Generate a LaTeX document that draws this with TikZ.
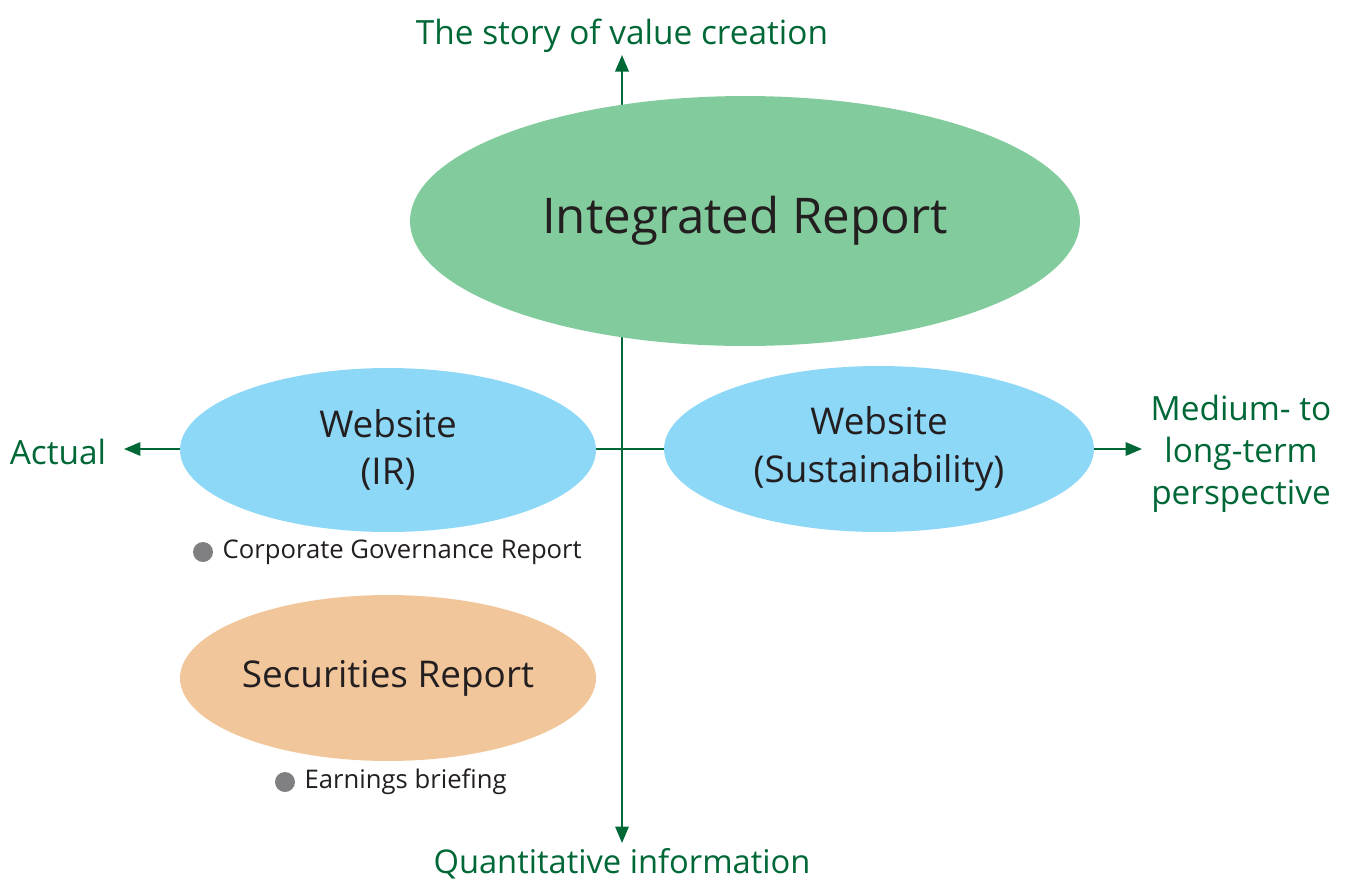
\documentclass[tikz,border=0pt]{standalone}
\usepackage{fontspec}
\setmainfont{Open Sans}
\usetikzlibrary{arrows.meta, positioning, shapes.geometric}

\definecolor{axisgreen}{RGB}{0,104,55}
\definecolor{irgreen}{RGB}{130,203,156}
\definecolor{webblue}{RGB}{141,215,247}
\definecolor{secorange}{RGB}{242,198,155}
\definecolor{bulletgray}{RGB}{128,128,130}
\definecolor{textdark}{RGB}{35,31,32}

\begin{document}
\begin{tikzpicture}[
x=0.02cm, y=-0.02cm,
node distance=2mm,
axis/.style={draw=axisgreen, line width=1.1pt, -{Triangle[length=3.3mm, width=2.7mm]}},
axislabel/.style={text=axisgreen, font=\fontsize{19}{24}\selectfont, align=center, inner sep=0pt},
report/.style={ellipse, inner sep=0pt, text=textdark, align=center, font=\fontsize{21}{27}\selectfont},
dot/.style={circle, fill=bulletgray, inner sep=0pt, minimum size=4mm},
note/.style={text=textdark, font=\fontsize{14.6}{18}\selectfont, inner sep=0pt, anchor=west}
]
\useasboundingbox (0,0) rectangle (1346,880);

% axes
\coordinate (origin) at (622,449);
\coordinate (up) at (622,55);
\coordinate (down) at (622,843);
\coordinate (left) at (124,449);
\coordinate (right) at (1142,449);
\draw[axis] (origin) -- (up);
\draw[axis] (origin) -- (down);
\draw[axis] (origin) -- (left);
\draw[axis] (origin) -- (right);

\node[axislabel] (story) at (622,36) {The story of value creation};
\node[axislabel, font=\fontsize{18.6}{24}\selectfont] (quant) at (622,864) {Quantitative information};
\node[axislabel] (actual) at (58,452) {Actual};
\node[axislabel] (longterm) at (1241,454) {Medium- to\\long-term\\perspective};

% media
\node[report, fill=irgreen, minimum width=13.4cm, minimum height=5cm,
  font=\fontsize{28}{34}\selectfont] (integrated) at (745,221) {Integrated Report};
\node[report, fill=webblue, minimum width=8.32cm, minimum height=3.28cm] (webir) at (388,450) {Website\\(IR)};
\node[report, fill=webblue, minimum width=8.6cm, minimum height=3.32cm] (websus) at (879,449) {Website\\(Sustainability)};
\node[report, fill=secorange, minimum width=8.32cm, minimum height=3.32cm] (secrep) at (388,678) {Securities Report};

% related disclosures
\node[dot] (cgdot) at (203,552) {};
\node[note, right=1.8mm of cgdot] (cgrep) {Corporate Governance Report};
\node[dot] (ebdot) at (285,782) {};
\node[note, right=1.8mm of ebdot] (earnings) {Earnings briefing};
\end{tikzpicture}
\end{document}
